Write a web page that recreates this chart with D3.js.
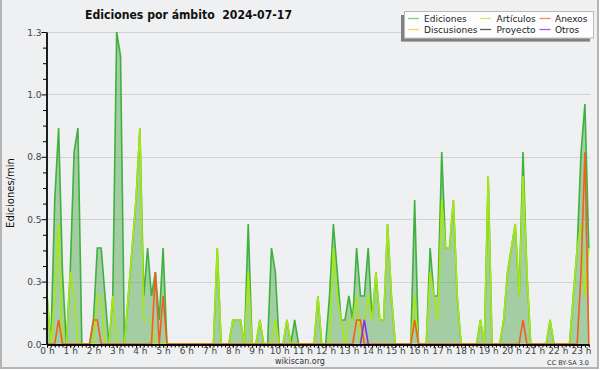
<!DOCTYPE html>
<html>
<head>
<meta charset="utf-8">
<script src="https://cdn.jsdelivr.net/npm/d3@7"></script>
<style>
  body { margin: 0; background: #fff; }
  svg { display: block; }
</style>
</head>
<body>
<div id="chart"></div>
<script>
// 10 minute bins from 00:00 to 23:20, edits per minute
var hourLabels = ["0 h","1 h","2 h","3 h","4 h","5 h","6 h","7 h","8 h","9 h","10 h","11 h",
                  "12 h","13 h","14 h","15 h","16 h","17 h","18 h","19 h","20 h","21 h","22 h","23 h"];

var ediciones = [
  0.2, 0, 0.6, 0.9, 0.3, 0,      // 0 h
  0.3, 0.8, 0.9, 0, 0, 0,        // 1 h
  0.1, 0.4, 0.4, 0.2, 0, 0.2,    // 2 h
  1.3, 1.2, 0, 0.2, 0.4, 0.6,    // 3 h
  0.9, 0.2, 0.4, 0.2, 0.3, 0.1,  // 4 h
  0.4, 0, 0, 0, 0, 0,            // 5 h
  0, 0, 0, 0, 0, 0,              // 6 h
  0, 0, 0.4, 0, 0, 0,            // 7 h
  0.1, 0.1, 0.1, 0, 0.5, 0,      // 8 h
  0, 0.1, 0, 0, 0.4, 0.3,        // 9 h
  0, 0, 0.1, 0, 0.1, 0,          // 10 h
  0, 0, 0, 0, 0.2, 0,            // 11 h
  0, 0.2, 0.5, 0.3, 0.1, 0.1,    // 12 h
  0.2, 0.1, 0.4, 0.2, 0.2, 0.4,  // 13 h
  0.1, 0.3, 0.1, 0.1, 0.5, 0.2,  // 14 h
  0, 0, 0, 0, 0, 0.6,            // 15 h
  0, 0, 0, 0.4, 0.2, 0.2,        // 16 h
  0.8, 0.4, 0.4, 0.6, 0.2, 0,    // 17 h
  0, 0, 0, 0, 0.1, 0,            // 18 h
  0.7, 0, 0, 0, 0.1, 0.3,        // 19 h
  0.4, 0.5, 0.2, 0.8, 0.3, 0,    // 20 h
  0, 0, 0, 0, 0.1, 0,            // 21 h
  0, 0, 0, 0, 0.2, 0.4,          // 22 h
  0.8, 1.0, 0.4                  // 23 h
];

var articulos = [
  0.2, 0, 0.2, 0.5, 0, 0,
  0.3, 0.2, 0, 0, 0, 0,
  0, 0.2, 0.2, 0, 0, 0.2,
  0, 0, 0, 0.2, 0.4, 0.6,
  0.9, 0.1, 0.1, 0.1, 0, 0,
  0, 0, 0, 0, 0, 0,
  0, 0, 0, 0, 0, 0,
  0, 0, 0.4, 0, 0, 0,
  0.1, 0.1, 0.1, 0, 0.3, 0,
  0, 0.1, 0, 0, 0, 0.1,
  0, 0, 0.1, 0, 0, 0,
  0, 0, 0, 0, 0.2, 0,
  0, 0, 0.4, 0.2, 0.1, 0,
  0.1, 0.1, 0.2, 0, 0.1, 0.2,
  0.1, 0.3, 0.1, 0.1, 0.5, 0.2,
  0, 0, 0, 0, 0, 0.2,
  0, 0, 0, 0.3, 0.2, 0.1,
  0.6, 0.4, 0.4, 0.6, 0.2, 0,
  0, 0, 0, 0, 0.1, 0,
  0.7, 0, 0, 0, 0.1, 0.3,
  0.4, 0.5, 0.2, 0.7, 0.3, 0,
  0, 0, 0, 0, 0.1, 0,
  0, 0, 0, 0, 0.2, 0.4,
  0.5, 0.2, 0.4
];

var anexos = [
  0, 0, 0, 0.1, 0, 0,
  0, 0, 0, 0, 0, 0,
  0.1, 0.1, 0, 0, 0, 0,
  0, 0, 0, 0, 0, 0,
  0, 0, 0, 0, 0.3, 0,
  0.2, 0, 0, 0, 0, 0,
  0, 0, 0, 0, 0, 0,
  0, 0, 0, 0, 0, 0,
  0, 0, 0, 0, 0, 0,
  0, 0, 0, 0, 0, 0,
  0, 0, 0, 0, 0, 0,
  0, 0, 0, 0, 0, 0,
  0, 0, 0, 0, 0, 0,
  0, 0, 0.1, 0.1, 0, 0,
  0, 0, 0, 0, 0, 0,
  0, 0, 0, 0, 0, 0.1,
  0, 0, 0, 0, 0, 0,
  0, 0, 0, 0, 0, 0,
  0, 0, 0, 0, 0, 0,
  0, 0, 0, 0, 0, 0,
  0, 0, 0, 0.1, 0, 0,
  0, 0, 0, 0, 0, 0,
  0, 0, 0, 0, 0, 0,
  0.3, 0.8, 0
];

// only the bins around their non-zero values
var discusiones = [ { bin: 79, v: 0 }, { bin: 80, v: 0.1 }, { bin: 81, v: 0.1 }, { bin: 82, v: 0 } ];
var otros = [ { bin: 81, v: 0 }, { bin: 82, v: 0.1 }, { bin: 83, v: 0 } ];

var yTicks = [0, 0.26, 0.52, 0.78, 1.04, 1.3];
var legendNames  = ["Ediciones", "Discusiones", "Artículos", "Proyecto", "Anexos", "Otros"];
var legendColors = ["#86cf86", "#ffd45a", "#cdeb6a", "#5a5a5a", "#ef8a5a", "#a45ee8"];

(function () {
  'use strict';

  var W = 600, H = 370;
  var plotLeft = 47, plotRight = 588.8, plotTop = 32, plotBottom = 344;
  var binMin = 10;

  var svg = d3.select("#chart").append("svg")
      .attr("width", W)
      .attr("height", H);

  svg.append("rect")
      .attr("x", 1).attr("y", -2)
      .attr("width", 597).attr("height", 370)
      .attr("fill", "#eff0f1")
      .attr("stroke", "#b4b4b4")
      .attr("stroke-width", 2);

  var x = d3.scaleLinear().domain([0, (ediciones.length - 1) * binMin]).range([plotLeft, plotRight]);
  var y = d3.scaleLinear().domain([0, 1.3]).range([plotBottom, plotTop]);

  // grid
  svg.append("g").selectAll("line")
      .data(yTicks.slice(1))
      .enter().append("line")
        .attr("x1", plotLeft).attr("x2", 590)
        .attr("y1", function(d) { return Math.round(y(d)) + 0.5; })
        .attr("y2", function(d) { return Math.round(y(d)) + 0.5; })
        .attr("stroke", "#d2d2d2");

  var area = d3.area()
      .x(function(d, i) { return x(i * binMin); })
      .y0(y(0))
      .y1(function(d) { return y(d); });

  var line = d3.line()
      .x(function(d, i) { return x(i * binMin); })
      .y(function(d) { return y(d); });

  var sparseLine = d3.line()
      .x(function(d) { return x(d.bin * binMin); })
      .y(function(d) { return y(d.v); });

  svg.append("path")
      .datum(ediciones)
      .attr("d", area)
      .attr("fill", "rgb(70,165,70)")
      .attr("fill-opacity", 0.45);

  svg.append("path")
      .datum(ediciones)
      .attr("d", line)
      .attr("fill", "none")
      .attr("stroke", "#3eb13e")
      .attr("stroke-width", 1.6);

  svg.append("path")
      .datum(articulos)
      .attr("d", line)
      .attr("fill", "none")
      .attr("stroke", "#a6e714")
      .attr("stroke-width", 1.6);

  svg.append("path")
      .datum(discusiones)
      .attr("d", sparseLine)
      .attr("fill", "none")
      .attr("stroke", "#ffb11c")
      .attr("stroke-width", 1.6);

  svg.append("path")
      .datum(anexos)
      .attr("d", line)
      .attr("fill", "none")
      .attr("stroke", "#f0601e")
      .attr("stroke-width", 1.6);

  svg.append("path")
      .datum(otros)
      .attr("d", sparseLine)
      .attr("fill", "none")
      .attr("stroke", "#8a32e6")
      .attr("stroke-width", 1.6);

  // y axis, 4 minor steps between labelled ticks
  var yMinor = yTicks.slice(0, -1).reduce(function(acc, t, i) {
    var step = (yTicks[i + 1] - t) / 4;
    return acc.concat([t + step, t + 2 * step, t + 3 * step]);
  }, []);

  var yAxisMinor = svg.append("g")
      .attr("transform", "translate(" + (plotLeft - 0.5) + ",0)")
      .call(d3.axisLeft(y).tickValues(yMinor).tickSize(3.5).tickSizeOuter(0).tickFormat(""));
  var yAxis = svg.append("g")
      .attr("transform", "translate(" + (plotLeft - 0.5) + ",0)")
      .call(d3.axisLeft(y).tickValues(yTicks).tickSize(5).tickSizeOuter(0).tickFormat(d3.format(".1f")));

  // x axis, a tick for every bin
  var xMinor = ediciones.map(function(d, i) { return i * binMin; });
  var xAxisMinor = svg.append("g")
      .attr("transform", "translate(0," + (plotBottom + 0.5) + ")")
      .call(d3.axisBottom(x).tickValues(xMinor).tickSize(3).tickSizeOuter(0).tickFormat(""));
  var xAxis = svg.append("g")
      .attr("transform", "translate(0," + (plotBottom + 0.5) + ")")
      .call(d3.axisBottom(x).tickValues(hourLabels.map(function(d, i) { return i * 60; }))
             .tickSize(3).tickSizeOuter(0)
             .tickFormat(function(d, i) { return hourLabels[i]; }));

  [yAxisMinor, yAxis, xAxisMinor, xAxis].forEach(function(g) {
    g.select(".domain").attr("stroke", "#000").attr("stroke-width", 1.3);
    g.selectAll(".tick line").attr("stroke", "#000");
    g.selectAll("text").attr("font-family", "DejaVu Sans").attr("font-size", 9).attr("fill", "#444");
  });
  yAxis.selectAll("text").attr("x", -5).attr("dy", "0.35em");
  xAxis.selectAll("text").attr("y", 3).attr("dy", "0.72em");

  // titles
  svg.append("text")
      .attr("x", 85).attr("y", 18.5)
      .attr("font-family", "DejaVu Sans")
      .attr("font-weight", "bold")
      .attr("font-size", 12)
      .attr("textLength", 207)
      .attr("lengthAdjust", "spacingAndGlyphs")
      .attr("fill", "#111")
      .style("white-space", "pre")
      .text("Ediciones por ámbito  2024-07-17");

  svg.append("text")
      .attr("transform", "translate(13.5,193) rotate(-90)")
      .attr("text-anchor", "middle")
      .attr("font-family", "DejaVu Sans")
      .attr("font-size", 10)
      .attr("fill", "#111")
      .text("Ediciones/min");

  svg.append("text")
      .attr("x", 300).attr("y", 364)
      .attr("text-anchor", "middle")
      .attr("font-family", "DejaVu Sans")
      .attr("font-size", 8)
      .attr("fill", "#333")
      .text("wikiscan.org");

  svg.append("text")
      .attr("x", 589).attr("y", 364.5)
      .attr("text-anchor", "end")
      .attr("font-family", "DejaVu Sans")
      .attr("font-size", 6.5)
      .attr("fill", "#333")
      .text("CC BY-SA 3.0");

  // legend with its shadow
  var legend = svg.append("g");
  legend.append("rect")
      .attr("x", 401).attr("y", 15)
      .attr("width", 189).attr("height", 26.6)
      .attr("fill", "#808080");
  legend.append("rect")
      .attr("x", 404.5).attr("y", 11.5)
      .attr("width", 189).attr("height", 26.6)
      .attr("fill", "#fdfdfd")
      .attr("stroke", "#b9b9b9");

  var legendCols = [408, 480, 539.5];
  var legendTextX = [424, 496.5, 555];
  var legendRows = [18.5, 29.5];

  var item = legend.selectAll(".item")
      .data(legendNames)
      .enter().append("g")
        .attr("class", "item");
  item.append("line")
      .attr("x1", function(d, i) { return legendCols[Math.floor(i / 2)]; })
      .attr("x2", function(d, i) { return legendCols[Math.floor(i / 2)] + 11; })
      .attr("y1", function(d, i) { return legendRows[i % 2]; })
      .attr("y2", function(d, i) { return legendRows[i % 2]; })
      .attr("stroke", function(d, i) { return legendColors[i]; })
      .attr("stroke-width", 1.3);
  item.append("text")
      .attr("x", function(d, i) { return legendTextX[Math.floor(i / 2)]; })
      .attr("y", function(d, i) { return legendRows[i % 2] + 3.3; })
      .attr("font-family", "DejaVu Sans")
      .attr("font-size", 9)
      .attr("fill", "#222")
      .text(function(d) { return d; });
}());
</script>
</body>
</html>
